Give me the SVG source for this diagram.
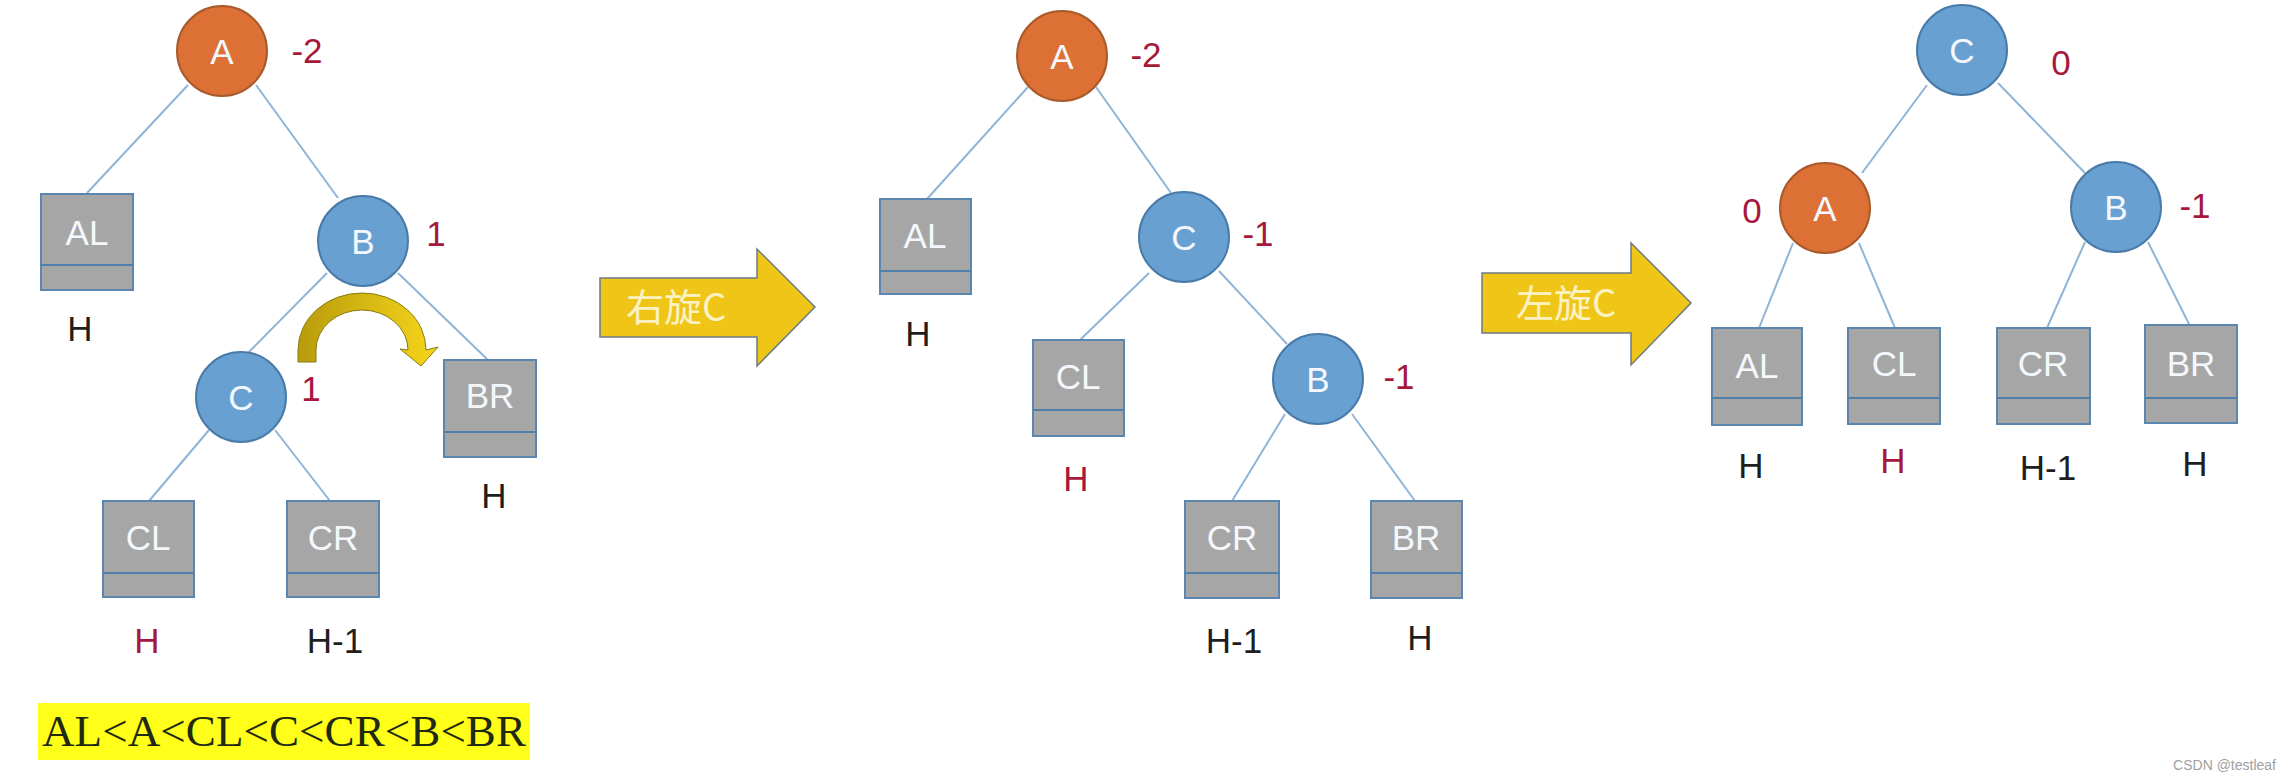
<svg xmlns="http://www.w3.org/2000/svg" width="2283" height="780" viewBox="0 0 2283 780">
<style>
.edge{stroke:#8FB4D6;stroke-width:2;fill:none}
.nodeA{fill:#DC7035;stroke:#A95A2C;stroke-width:2}
.nodeB{fill:#68A0D2;stroke:#4A7BA8;stroke-width:2}
.box{fill:#A6A6A6;stroke:#5B86B0;stroke-width:2}
.div{stroke:#4F7FAA;stroke-width:2}
.nt{font-family:"Liberation Sans","Open Sans",sans-serif;font-size:35px;fill:#F4F8FC;text-anchor:middle}
.lbl{font-family:"Liberation Sans","Open Sans",sans-serif;font-size:35px;text-anchor:middle}
.red{fill:#A5183C}
.blk{fill:#1E1E1E}
.arrow{fill:#EFC617;stroke:#6C7A88;stroke-width:1.5}
.at{font-family:"Noto Sans CJK SC","Noto Sans",sans-serif;font-size:38px;fill:#FBF2C4;text-anchor:middle}
.order{font-family:"Liberation Serif","Times New Roman",serif;font-size:45px;fill:#1F2A10;text-anchor:middle}
.wm{font-family:"Liberation Sans",Arial,sans-serif;font-size:14px;fill:#A0A0A0;text-anchor:end}
</style>
<defs>
<linearGradient id="curve" x1="0" y1="0" x2="1" y2="0">
<stop offset="0" stop-color="#B89B0C"/>
<stop offset="1" stop-color="#F6D61A"/>
</linearGradient>
</defs>
<rect width="2283" height="780" fill="#FFFFFF"/>

<g id="connectors">
<line class="edge" x1="188" y1="85" x2="87" y2="193"/>
<line class="edge" x1="256" y1="85" x2="338" y2="198"/>
<line class="edge" x1="327" y1="273" x2="249" y2="352"/>
<line class="edge" x1="398" y1="273" x2="488" y2="360"/>
<line class="edge" x1="209" y1="430" x2="149" y2="501"/>
<line class="edge" x1="275" y1="430" x2="330" y2="501"/>

<line class="edge" x1="1028" y1="87" x2="927" y2="199"/>
<line class="edge" x1="1096" y1="87" x2="1171" y2="193"/>
<line class="edge" x1="1149" y1="273" x2="1080" y2="340"/>
<line class="edge" x1="1219" y1="271" x2="1287" y2="344"/>
<line class="edge" x1="1285" y1="414" x2="1232" y2="501"/>
<line class="edge" x1="1352" y1="414" x2="1415" y2="501"/>

<line class="edge" x1="1927" y1="85" x2="1862" y2="173"/>
<line class="edge" x1="1998" y1="83" x2="2085" y2="173"/>
<line class="edge" x1="1793" y1="243" x2="1759" y2="328"/>
<line class="edge" x1="1859" y1="243" x2="1895" y2="328"/>
<line class="edge" x1="2085" y1="242" x2="2047" y2="328"/>
<line class="edge" x1="2148" y1="242" x2="2190" y2="326"/>
</g>

<g id="t1-A"><circle class="nodeA" cx="222" cy="51" r="45"/><text class="nt" x="222" y="64">A</text><text class="lbl red" x="307" y="63">-2</text></g>
<g id="t1-AL"><rect class="box" x="41" y="194" width="92" height="96"/><line class="div" x1="41" y1="265" x2="133" y2="265"/><text class="nt" x="87" y="245">AL</text><text class="lbl blk" x="80" y="341">H</text></g>
<g id="t1-B"><circle class="nodeB" cx="363" cy="241" r="45"/><text class="nt" x="363" y="254">B</text><text class="lbl red" x="436" y="246">1</text></g>
<g id="t1-C"><circle class="nodeB" cx="241" cy="397" r="45"/><text class="nt" x="241" y="410">C</text><text class="lbl red" x="311" y="401">1</text></g>
<g id="t1-BR"><rect class="box" x="444" y="360" width="92" height="97"/><line class="div" x1="444" y1="432" x2="536" y2="432"/><text class="nt" x="490" y="408">BR</text><text class="lbl blk" x="494" y="508">H</text></g>
<g id="t1-CL"><rect class="box" x="103" y="501" width="91" height="96"/><line class="div" x1="103" y1="573" x2="194" y2="573"/><text class="nt" x="148" y="550">CL</text><text class="lbl red" x="147" y="653">H</text></g>
<g id="t1-CR"><rect class="box" x="287" y="501" width="92" height="96"/><line class="div" x1="287" y1="573" x2="379" y2="573"/><text class="nt" x="333" y="550">CR</text><text class="lbl blk" x="335" y="653">H-1</text></g>
<g id="t1-rotate">
<path d="M298 362 L298 350 A64 57 0 0 1 426 350 L438 347 L421 366 L400 349 L408 350 A46 40 0 0 0 316 350 L316 362 Z" fill="url(#curve)" stroke="#8A7A10" stroke-width="1"/>
</g>
<g id="order">
<rect x="38" y="703" width="492" height="57" fill="#FFFF1A"/>
<text class="order" x="284" y="746" textLength="484">AL&lt;A&lt;CL&lt;C&lt;CR&lt;B&lt;BR</text>
</g>

<g id="arrow-right">
<polygon class="arrow" points="600,278 757,278 757,249 815,307 757,366 757,337 600,337"/>
<text class="at" x="676" y="321">右旋C</text>
</g>

<g id="t2-A"><circle class="nodeA" cx="1062" cy="56" r="45"/><text class="nt" x="1062" y="69">A</text><text class="lbl red" x="1146" y="67">-2</text></g>
<g id="t2-AL"><rect class="box" x="880" y="199" width="91" height="95"/><line class="div" x1="880" y1="271" x2="971" y2="271"/><text class="nt" x="925" y="248">AL</text><text class="lbl blk" x="918" y="346">H</text></g>
<g id="t2-C"><circle class="nodeB" cx="1184" cy="237" r="45"/><text class="nt" x="1184" y="250">C</text><text class="lbl red" x="1258" y="246">-1</text></g>
<g id="t2-CL"><rect class="box" x="1033" y="340" width="91" height="96"/><line class="div" x1="1033" y1="410" x2="1124" y2="410"/><text class="nt" x="1078" y="389">CL</text><text class="lbl red" x="1076" y="491">H</text></g>
<g id="t2-B"><circle class="nodeB" cx="1318" cy="379" r="45"/><text class="nt" x="1318" y="392">B</text><text class="lbl red" x="1399" y="389">-1</text></g>
<g id="t2-CR"><rect class="box" x="1185" y="501" width="94" height="97"/><line class="div" x1="1185" y1="573" x2="1279" y2="573"/><text class="nt" x="1232" y="550">CR</text><text class="lbl blk" x="1234" y="653">H-1</text></g>
<g id="t2-BR"><rect class="box" x="1371" y="501" width="91" height="97"/><line class="div" x1="1371" y1="573" x2="1462" y2="573"/><text class="nt" x="1416" y="550">BR</text><text class="lbl blk" x="1420" y="650">H</text></g>

<g id="arrow-left">
<polygon class="arrow" points="1482,273 1631,273 1631,243 1691,303 1631,365 1631,333 1482,333"/>
<text class="at" x="1566" y="317">左旋C</text>
</g>

<g id="t3-C"><circle class="nodeB" cx="1962" cy="50" r="45"/><text class="nt" x="1962" y="63">C</text><text class="lbl red" x="2061" y="75">0</text></g>
<g id="t3-A"><circle class="nodeA" cx="1825" cy="208" r="45"/><text class="nt" x="1825" y="221">A</text><text class="lbl red" x="1752" y="223">0</text></g>
<g id="t3-B"><circle class="nodeB" cx="2116" cy="207" r="45"/><text class="nt" x="2116" y="220">B</text><text class="lbl red" x="2195" y="218">-1</text></g>
<g id="t3-AL"><rect class="box" x="1712" y="328" width="90" height="97"/><line class="div" x1="1712" y1="398" x2="1802" y2="398"/><text class="nt" x="1757" y="378">AL</text><text class="lbl blk" x="1751" y="478">H</text></g>
<g id="t3-CL"><rect class="box" x="1848" y="328" width="92" height="96"/><line class="div" x1="1848" y1="398" x2="1940" y2="398"/><text class="nt" x="1894" y="376">CL</text><text class="lbl red" x="1893" y="473">H</text></g>
<g id="t3-CR"><rect class="box" x="1997" y="328" width="93" height="96"/><line class="div" x1="1997" y1="398" x2="2090" y2="398"/><text class="nt" x="2043" y="376">CR</text><text class="lbl blk" x="2048" y="480">H-1</text></g>
<g id="t3-BR"><rect class="box" x="2145" y="325" width="92" height="98"/><line class="div" x1="2145" y1="398" x2="2237" y2="398"/><text class="nt" x="2191" y="376">BR</text><text class="lbl blk" x="2195" y="476">H</text></g>

<text class="wm" x="2276" y="770">CSDN @testleaf</text>
</svg>
